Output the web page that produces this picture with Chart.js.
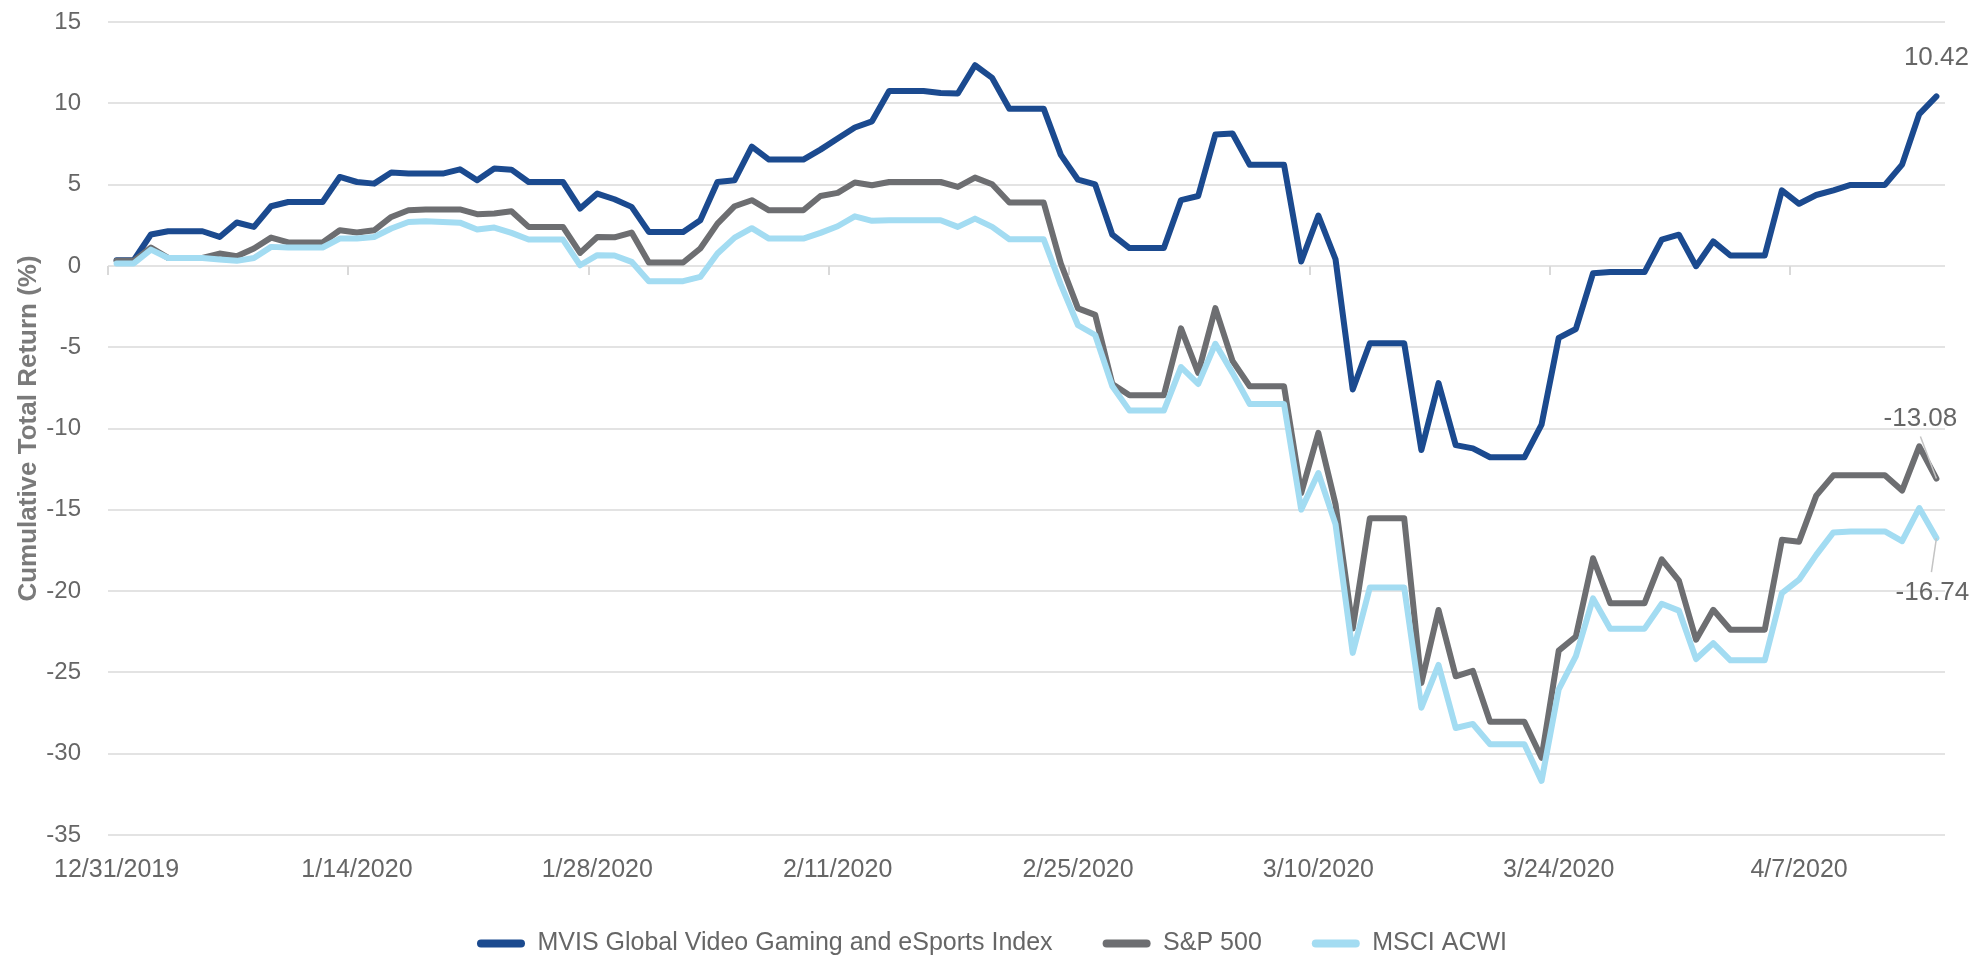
<!DOCTYPE html>
<html>
<head>
<meta charset="utf-8">
<script src="https://cdn.jsdelivr.net/npm/chart.js@4.4.0/dist/chart.umd.min.js"></script>
<style>
  html, body { margin: 0; padding: 0; background: #ffffff; }
  #wrap { width: 1977px; height: 966px; }
</style>
</head>
<body>
<div id="wrap"><canvas id="returnsChart" width="1977" height="966"></canvas></div>
<script>
// Daily dates, 12/31/2019 through 4/15/2020 (weekends carry the last close)
const dates = [];
for (let d = new Date(2019, 11, 31); d <= new Date(2020, 3, 15); d.setDate(d.getDate() + 1)) {
    dates.push((d.getMonth() + 1) + '/' + d.getDate() + '/' + d.getFullYear());
}

const seriesNames = ['MVIS Global Video Gaming and eSports Index', 'S&P 500', 'MSCI ACWI'];
const seriesColors = ['#1b4a8f', '#6d6e71', '#a3dcf2'];

// Cumulative total return (%)
const mvisGaming = [
    0.35, 0.35, 1.93, 2.13, 2.13, 2.13, 1.78, 2.67, 2.40, 3.67,
    3.93, 3.93, 3.93, 5.47, 5.16, 5.06, 5.74, 5.68, 5.68, 5.68,
    5.94, 5.27, 5.99, 5.92, 5.16, 5.16, 5.16, 3.53, 4.45, 4.10,
    3.63, 2.09, 2.09, 2.09, 2.81, 5.16, 5.27, 7.33, 6.54, 6.54,
    6.54, 7.15, 7.83, 8.51, 8.89, 10.76, 10.76, 10.76, 10.63, 10.60,
    12.34, 11.56, 9.67, 9.67, 9.67, 6.83, 5.30, 5.01, 1.92, 1.10,
    1.10, 1.10, 4.05, 4.30, 8.08, 8.14, 6.22, 6.22, 6.22, 0.27,
    3.10, 0.41, -7.60, -4.76, -4.76, -4.76, -11.32, -7.21, -11.02, -11.22,
    -11.77, -11.77, -11.77, -9.76, -4.43, -3.88, -0.45, -0.38, -0.38, -0.38,
    1.62, 1.92, -0.02, 1.51, 0.64, 0.64, 0.64, 4.65, 3.82, 4.36,
    4.65, 4.98, 4.98, 4.98, 6.23, 9.34, 10.42
];
const sp500 = [
    0.31, 0.31, 1.13, 0.49, 0.49, 0.49, 0.76, 0.60, 1.07, 1.74,
    1.44, 1.44, 1.44, 2.19, 2.05, 2.19, 3.01, 3.42, 3.47, 3.47,
    3.47, 3.18, 3.22, 3.36, 2.40, 2.40, 2.40, 0.80, 1.78, 1.76,
    2.05, 0.21, 0.21, 0.21, 1.07, 2.60, 3.67, 4.04, 3.42, 3.42,
    3.42, 4.30, 4.49, 5.13, 4.96, 5.16, 5.16, 5.16, 5.16, 4.86,
    5.43, 5.02, 3.90, 3.90, 3.90, 0.15, -2.61, -3.01, -7.26, -7.95,
    -7.95, -7.95, -3.84, -6.58, -2.60, -5.84, -7.40, -7.40, -7.40, -13.97,
    -10.27, -14.66, -22.30, -15.52, -15.52, -15.52, -25.66, -21.16, -25.24, -24.91,
    -28.04, -28.04, -28.04, -30.25, -23.66, -22.79, -17.98, -20.74, -20.74, -20.74,
    -18.05, -19.35, -22.99, -21.15, -22.38, -22.38, -22.38, -16.84, -16.96, -14.13,
    -12.88, -12.88, -12.88, -12.88, -13.82, -11.10, -13.08
];
const msciAcwi = [
    0.15, 0.15, 1.00, 0.49, 0.49, 0.49, 0.39, 0.31, 0.49, 1.17,
    1.13, 1.13, 1.13, 1.68, 1.68, 1.78, 2.30, 2.70, 2.74, 2.70,
    2.66, 2.24, 2.36, 2.03, 1.62, 1.62, 1.62, 0.04, 0.66, 0.64,
    0.25, -0.94, -0.94, -0.94, -0.68, 0.76, 1.74, 2.32, 1.68, 1.68,
    1.68, 2.03, 2.44, 3.05, 2.77, 2.81, 2.81, 2.81, 2.81, 2.40,
    2.91, 2.40, 1.64, 1.64, 1.64, -1.15, -3.65, -4.25, -7.40, -8.90,
    -8.90, -8.90, -6.22, -7.26, -4.79, -6.58, -8.49, -8.49, -8.49, -14.99,
    -12.74, -15.89, -23.80, -19.78, -19.78, -19.78, -27.17, -24.54, -28.42, -28.17,
    -29.42, -29.42, -29.42, -31.67, -26.04, -24.00, -20.45, -22.31, -22.31, -22.31,
    -20.78, -21.20, -24.18, -23.20, -24.26, -24.26, -24.26, -20.12, -19.30, -17.77,
    -16.39, -16.33, -16.33, -16.33, -16.93, -14.89, -16.74
];

const textFont = '"Liberation Sans", Arial, sans-serif';
const textColor = '#666666';
const gridColor = '#e3e3e3';

// Little tick marks hanging off the zero line, one every 14 days
const zeroTicks = {
    id: 'zeroTicks',
    beforeDatasetsDraw(chart) {
        const x = chart.scales.x, y = chart.scales.y;
        const half = (x.getPixelForValue(1) - x.getPixelForValue(0)) / 2;
        const y0 = y.getPixelForValue(0);
        const ctx = chart.ctx;
        ctx.save();
        ctx.strokeStyle = '#d9d9d9';
        ctx.lineWidth = 2;
        for (let i = 0; i < dates.length; i += 14) {
            const px = Math.round(x.getPixelForValue(i) - half);
            ctx.beginPath();
            ctx.moveTo(px, y0);
            ctx.lineTo(px, y0 + 9);
            ctx.stroke();
        }
        ctx.restore();
    }
};

// Last-value labels with their leader lines
const endLabels = {
    id: 'endLabels',
    afterDatasetsDraw(chart) {
        const ctx = chart.ctx;
        const spots = [
            { ds: 0, tx: 0, ty: -39, lead: null },
            { ds: 1, tx: -16, ty: -60, lead: [-16, -42] },
            { ds: 2, tx: -4, ty: 55, lead: [-5, 34] }
        ];
        ctx.save();
        ctx.font = '26px ' + textFont;
        ctx.textAlign = 'center';
        ctx.textBaseline = 'middle';
        spots.forEach(s => {
            const pts = chart.getDatasetMeta(s.ds).data;
            const p = pts[pts.length - 1];
            const vals = chart.data.datasets[s.ds].data;
            if (s.lead) {
                ctx.strokeStyle = '#c4c4c4';
                ctx.lineWidth = 1.5;
                ctx.beginPath();
                ctx.moveTo(p.x, p.y);
                ctx.lineTo(p.x + s.lead[0], p.y + s.lead[1]);
                ctx.stroke();
            }
            ctx.fillStyle = textColor;
            ctx.fillText(vals[vals.length - 1].toFixed(2), p.x + s.tx, p.y + s.ty);
        });
        ctx.restore();
    }
};

const ctx = document.getElementById('returnsChart').getContext('2d');

const returnsChart = new Chart(ctx, {
    type: 'line',
    data: {
        labels: dates,
        datasets: [mvisGaming, sp500, msciAcwi].map((vals, i) => ({
            label: seriesNames[i],
            data: vals,
            borderColor: seriesColors[i],
            backgroundColor: seriesColors[i],
            borderWidth: 6,
            borderJoinStyle: 'round',
            borderCapStyle: 'round',
            pointRadius: 0,
            tension: 0,
            order: 3 - i
        }))
    },
    options: {
        responsive: false,
        animation: false,
        layout: { padding: { left: 39, right: 32, top: 22, bottom: 0 } },
        scales: {
            x: {
                offset: true,
                grid: { display: false, drawTicks: false, offset: true },
                border: { display: false },
                ticks: {
                    autoSkip: false,
                    maxRotation: 0,
                    padding: 20,
                    color: textColor,
                    font: { family: textFont, size: 25 },
                    callback: (v, i) => (i % 14 === 0 ? dates[i] : '')
                },
                afterFit: s => { s.height = 46; }
            },
            y: {
                min: -35,
                max: 15,
                ticks: {
                    stepSize: 5,
                    padding: 27,
                    color: textColor,
                    font: { family: textFont, size: 24 }
                },
                grid: { color: gridColor, lineWidth: 2, drawTicks: false },
                border: { display: false },
                title: {
                    display: true,
                    text: 'Cumulative Total Return (%)',
                    color: '#7a7a7a',
                    font: { family: textFont, size: 26, weight: 'bold' },
                    padding: { top: -26, bottom: 0 }
                },
                afterFit: s => {
                    s.width = 69;
                    s.paddingTop = 15;
                    s.paddingBottom = 15;
                }
            }
        },
        plugins: {
            legend: {
                position: 'bottom',
                labels: {
                    color: textColor,
                    font: { family: textFont, size: 25 },
                    boxWidth: 48,
                    boxHeight: 8,
                    padding: 50,
                    useBorderRadius: true,
                    borderRadius: 4,
                    generateLabels: chart => Chart.defaults.plugins.legend.labels
                        .generateLabels(chart)
                        .sort((a, b) => a.datasetIndex - b.datasetIndex)
                        .map(item => Object.assign(item, { lineWidth: 0, fillStyle: item.strokeStyle }))
                }
            },
            tooltip: { enabled: false }
        }
    },
    plugins: [zeroTicks, endLabels]
});
</script>
</body>
</html>
